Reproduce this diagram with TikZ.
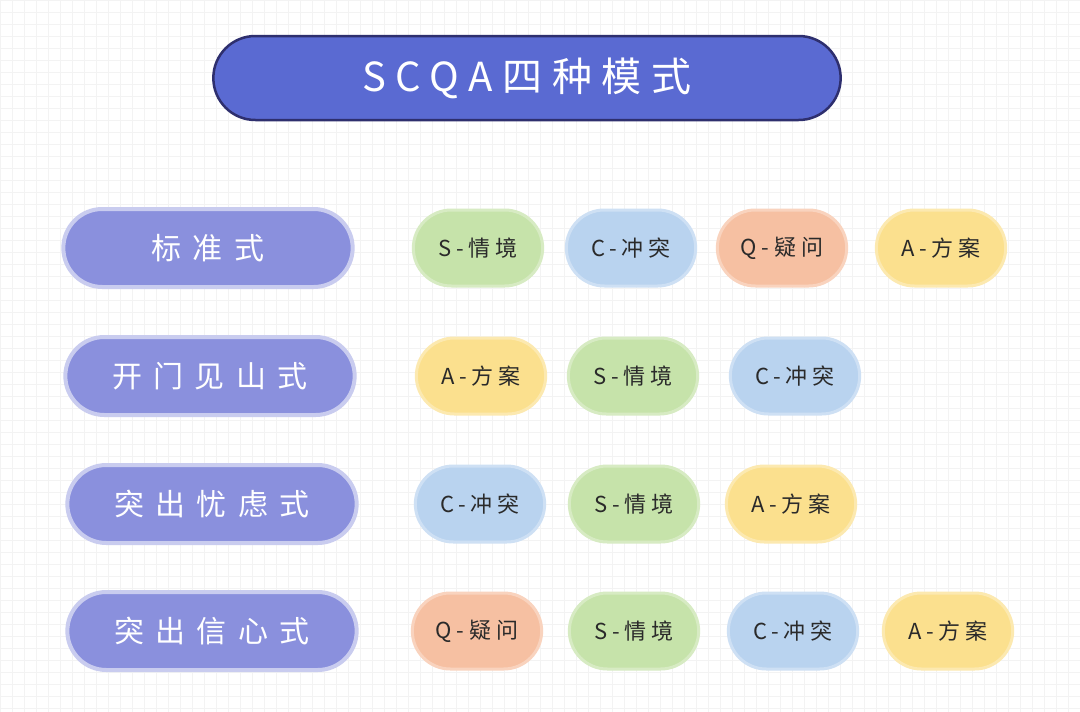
\documentclass[tikz,border=0pt]{standalone}
\usepackage{fontspec}
\setmainfont{Noto Sans CJK SC}
\newfontfamily\titlefont[LetterSpace=24]{Noto Sans CJK SC}
\newfontfamily\modefont[LetterSpace=38]{Noto Sans CJK SC}
\newfontfamily\tagfont[LetterSpace=22]{Noto Sans CJK SC}
\definecolor{titlefill}{HTML}{5A6AD2}
\definecolor{titledraw}{HTML}{2E2F6E}
\definecolor{modefill}{HTML}{8A90DD}
\definecolor{modedraw}{HTML}{C9CCEF}
\definecolor{sfill}{HTML}{C6E3AA}
\definecolor{cfill}{HTML}{B9D3EF}
\definecolor{qfill}{HTML}{F6C0A2}
\definecolor{afill}{HTML}{FBE08E}
\definecolor{gridc}{HTML}{F3F3F3}
\definecolor{txt}{HTML}{2A2A2A}
\usetikzlibrary{shapes.misc}
\tikzset{
  titlebox/.style={rounded rectangle, fill=titlefill, draw=titledraw, line width=2.5pt,
    minimum width=634pt, minimum height=84pt, text=white, font=\titlefont\fontsize{40}{40}\selectfont},
  modebox/.style={rounded rectangle, fill=modefill, draw=modedraw, line width=4pt,
    minimum width=296pt, minimum height=78pt, text=white, font=\modefont\fontsize{30}{30}\selectfont},
  tagbox/.style={rounded rectangle, line width=3pt, minimum width=136pt, minimum height=76pt,
    text=txt, font=\tagfont\fontsize{22}{22}\selectfont},
  stag/.style={tagbox, fill=sfill, draw=sfill!70!white},
  ctag/.style={tagbox, fill=cfill, draw=cfill!70!white},
  qtag/.style={tagbox, fill=qfill, draw=qfill!70!white},
  atag/.style={tagbox, fill=afill, draw=afill!70!white},
}
\begin{document}
\begin{tikzpicture}[x=1pt,y=-1pt]
\fill[white] (0,0) rectangle (1080,712);
\useasboundingbox (0,0) rectangle (1080,712);
\draw[gridc, line width=0.6pt, step=12pt] (0,0) grid (1080,712);
\node[titlebox] (title) at (527,78) {SCQA四种模式};

\node[modebox] (m1) at (208,248) {标准式};
\node[modebox] (m2) at (210,376) {开门见山式};
\node[modebox] (m3) at (212,504) {突出忧虑式};
\node[modebox] (m4) at (212,631) {突出信心式};

\node[stag] (r1s) at (478,248) {S-情境};
\node[ctag] (r1c) at (631,248) {C-冲突};
\node[qtag] (r1q) at (782,248) {Q-疑问};
\node[atag] (r1a) at (941,248) {A-方案};

\node[atag] (r2a) at (481,376) {A-方案};
\node[stag] (r2s) at (633,376) {S-情境};
\node[ctag] (r2c) at (795,376) {C-冲突};

\node[ctag] (r3c) at (480,504) {C-冲突};
\node[stag] (r3s) at (634,504) {S-情境};
\node[atag] (r3a) at (791,504) {A-方案};

\node[qtag] (r4q) at (477,631) {Q-疑问};
\node[stag] (r4s) at (634,631) {S-情境};
\node[ctag] (r4c) at (793,631) {C-冲突};
\node[atag] (r4a) at (948,631) {A-方案};
\end{tikzpicture}
\end{document}
